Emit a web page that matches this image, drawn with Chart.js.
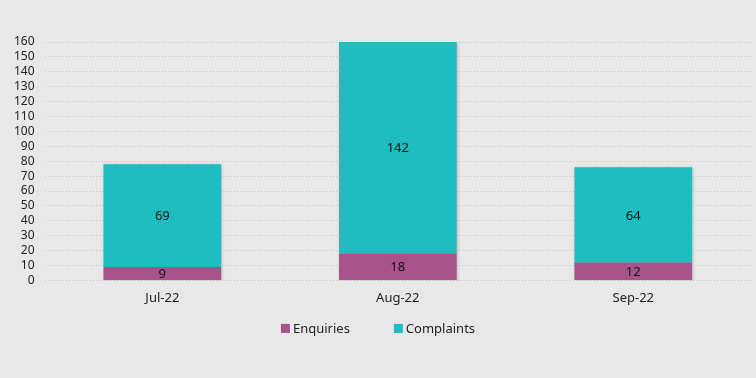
<!DOCTYPE html>
<html>
<head>
<meta charset="utf-8">
<script src="https://cdn.jsdelivr.net/npm/chart.js@4"></script>
<style>
    html, body { margin: 0; padding: 0; background: #E8E8E8; }
    #wrap { width: 756px; height: 378px; }
</style>
</head>
<body>
<div id="wrap"><canvas id="chart" width="756" height="378"></canvas></div>
<script>
const months = ['Jul-22', 'Aug-22', 'Sep-22'];
const enquiries = [9, 18, 12];
const complaints = [69, 142, 64];

const FONT = '"Noto Sans", "Open Sans", sans-serif';
Chart.defaults.font.family = FONT;
Chart.defaults.font.size = 12;
Chart.defaults.color = '#222';

// draws value in the middle of each bar segment
const valueLabels = {
    id: 'valueLabels',
    afterDatasetsDraw(chart) {
        const c = chart.ctx;
        c.save();
        c.font = '13px ' + FONT;
        c.fillStyle = '#111';
        c.textAlign = 'center';
        c.textBaseline = 'middle';
        chart.data.datasets.forEach((ds, i) => {
            chart.getDatasetMeta(i).data.forEach((bar, j) => {
                const mid = (bar.y + bar.base) / 2;
                c.fillText(ds.data[j], bar.x, mid + 1);
            });
        });
        c.restore();
    }
};

// soft shadow behind the bars
const barShadow = {
    id: 'barShadow',
    beforeDatasetsDraw(chart) {
        const c = chart.ctx;
        c.save();
        c.shadowColor = 'rgba(0,0,0,0.25)';
        c.shadowBlur = 3;
        c.shadowOffsetX = 1;
        c.shadowOffsetY = 1;
    },
    afterDatasetsDraw(chart) {
        chart.ctx.restore();
    }
};

// legend under the axis, with wide gaps between items
const bottomLegend = {
    id: 'bottomLegend',
    afterDraw(chart) {
        const c = chart.ctx;
        const gap = 44, box = 9;
        const y = chart.chartArea.bottom + 48;
        c.save();
        c.font = '13px ' + FONT;
        c.textBaseline = 'middle';
        const items = chart.data.datasets.map(ds => ({
            text: ds.label, color: ds.backgroundColor,
            w: box + 3 + c.measureText(ds.label).width
        }));
        const total = items.reduce((s, it) => s + it.w, 0) + gap * (items.length - 1);
        let x = chart.width / 2 - total / 2;
        items.forEach(it => {
            c.fillStyle = it.color;
            c.fillRect(x, y - box / 2, box, box);
            c.fillStyle = '#222';
            c.fillText(it.text, x + box + 3, y + 1);
            x += it.w + gap;
        });
        c.restore();
    }
};

const ctx = document.getElementById('chart').getContext('2d');

new Chart(ctx, {
    type: 'bar',
    data: {
        labels: months,
        datasets: [{
            label: 'Enquiries',
            data: enquiries,
            backgroundColor: '#A8538A',
            barPercentage: 0.5,
            categoryPercentage: 1
        }, {
            label: 'Complaints',
            data: complaints,
            backgroundColor: '#1FBDBF',
            barPercentage: 0.5,
            categoryPercentage: 1
        }]
    },
    options: {
        responsive: false,
        animation: false,
        layout: {padding: {top: 42, right: 5, bottom: 70, left: 4}},
        plugins: {
            legend: {display: false},
            tooltip: {enabled: false}
        },
        scales: {
            x: {
                stacked: true,
                grid: {display: false},
                border: {display: false},
                ticks: {font: {size: 13}, padding: 2}
            },
            y: {
                stacked: true,
                min: 0,
                max: 160,
                ticks: {stepSize: 10, padding: 10, autoSkip: false, font: {size: 12}},
                grid: {
                    color: '#C4C4C4',
                    drawTicks: false,
                    lineWidth: 1
                },
                border: {display: false, dash: [1, 2]}
            }
        }
    },
    plugins: [barShadow, valueLabels, bottomLegend]
});
</script>
</body>
</html>
